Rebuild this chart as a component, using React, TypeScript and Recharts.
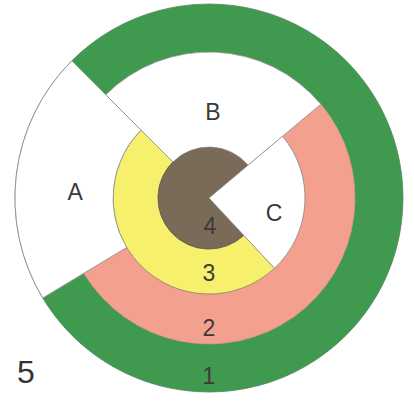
import { PieChart, Pie, Cell } from "recharts";

// rings, outermost first
const ringLabels = ["1", "2", "3", "4"];
const ringDrawn = [284, 189, 178, 273]; // degrees that are coloured
const ringStart = [211, 211, 135, 40]; // where the coloured arc starts

// white cut-out sectors
const sectorLabels = ["A", "B", "C"];
const sectorSpan = [76, 95, 87];
const sectorStart = [135, 40, -47];

const W = 414;
const H = 403;
const CX = 209;
const CY = 198;

const ringRadii = [
  [146, 194],
  [96, 146],
  [51, 96],
  [0, 51],
];
const ringFill = ["#3f9a4f", "#f4a08f", "#f6f06c", "#7a6a58"];
const ringStroke = ["none", "#c98a7d", "#8a8a60", "#6a5a4a"];
const ringLabelPos = [
  [-90, 178],
  [-90, 130],
  [-90, 75],
  [-88, 28],
];

const sectorRadii = [
  [96, 194],
  [51, 146],
  [0, 96],
];
const sectorLabelPos = [
  [177.4, 134],
  [87.3, 85.6],
  [-13, 66.7],
];

const RAD = Math.PI / 180;

function textAt(pos: number[], txt: string) {
  const [a, r] = pos;
  return (
    <text
      x={CX + r * Math.cos(-a * RAD)}
      y={CY + r * Math.sin(-a * RAD)}
      textAnchor="middle"
      dominantBaseline="central"
      fontFamily="Liberation Sans, Arial, sans-serif"
      fontSize={23}
      fill="#3a3a3a"
    >
      {txt}
    </text>
  );
}

export default function App() {
  return (
    <div style={{ position: "absolute", left: 0, top: 0, width: W, height: H, background: "#fff" }}>
      <PieChart width={W} height={H} margin={{ top: 0, right: 0, bottom: 0, left: 0 }}>
        <Pie
          data={[{ name: "outline", value: 1 }]}
          dataKey="value"
          cx={CX}
          cy={CY}
          innerRadius={0}
          outerRadius={194}
          startAngle={0}
          endAngle={360}
          fill="#ffffff"
          stroke="#8c8c8c"
          strokeWidth={1}
          isAnimationActive={false}
        />
        {ringLabels.map((lab, i) => (
          <Pie
            key={lab}
            data={[
              { name: lab, value: ringDrawn[i] },
              { name: "gap", value: 360 - ringDrawn[i] },
            ]}
            dataKey="value"
            cx={CX}
            cy={CY}
            innerRadius={ringRadii[i][0]}
            outerRadius={ringRadii[i][1]}
            startAngle={ringStart[i]}
            endAngle={ringStart[i] + 360}
            isAnimationActive={false}
            labelLine={false}
            label={(p: any) => (p.index === 0 ? textAt(ringLabelPos[i], lab) : null)}
          >
            <Cell fill={ringFill[i]} stroke={ringStroke[i]} strokeWidth={0.8} />
            <Cell fill="none" stroke="none" />
          </Pie>
        ))}
        {sectorLabels.map((lab, i) => (
          <Pie
            key={lab}
            data={[
              { name: lab, value: sectorSpan[i] },
              { name: "rest", value: 360 - sectorSpan[i] },
            ]}
            dataKey="value"
            cx={CX}
            cy={CY}
            innerRadius={sectorRadii[i][0]}
            outerRadius={sectorRadii[i][1]}
            startAngle={sectorStart[i]}
            endAngle={sectorStart[i] + 360}
            isAnimationActive={false}
            labelLine={false}
            label={(p: any) => (p.index === 0 ? textAt(sectorLabelPos[i], lab) : null)}
          >
            <Cell fill="#ffffff" stroke="#8c8c8c" strokeWidth={0.8} />
            <Cell fill="none" stroke="none" />
          </Pie>
        ))}
      </PieChart>
      <div
        style={{
          position: "absolute",
          left: 17,
          top: 355,
          fontFamily: "Liberation Sans, Arial, sans-serif",
          fontSize: 32,
          lineHeight: "34px",
          color: "#333",
        }}
      >
        5
      </div>
    </div>
  );
}
